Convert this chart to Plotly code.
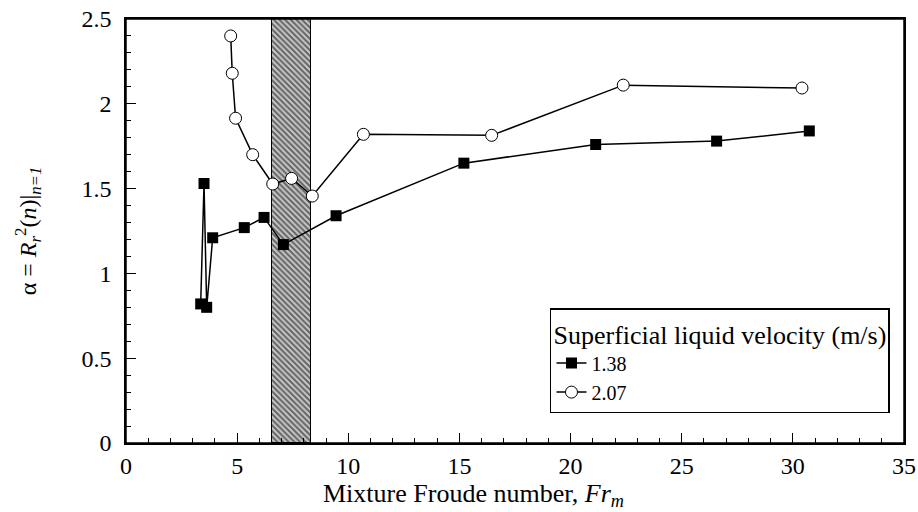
import plotly.graph_objects as go

# superficial liquid velocity 1.38 m/s (filled squares)
fr_138 = [3.36, 3.51, 3.63, 3.90, 5.32, 6.21, 7.08, 9.45, 15.2, 21.13, 26.57, 30.74]
alpha_138 = [0.82, 1.53, 0.80, 1.21, 1.27, 1.33, 1.17, 1.34, 1.65, 1.76, 1.78, 1.84]

# superficial liquid velocity 2.07 m/s (open circles)
fr_207 = [4.71, 4.78, 4.93, 5.70, 6.60, 7.45, 8.38, 10.68, 16.45, 22.37, 30.41]
alpha_207 = [2.40, 2.18, 1.915, 1.70, 1.527, 1.56, 1.456, 1.82, 1.814, 2.11, 2.093]

# transition band (hatched)
band_start = 6.55
band_end = 8.32
band_top = 2.5

FONT = "Liberation Serif"

fig = go.Figure()

fig.add_trace(
    go.Bar(
        x=[(band_start + band_end) / 2],
        y=[band_top],
        width=[band_end - band_start],
        base=0,
        marker=dict(
            color="#a8a8a8",
            line=dict(color="black", width=1),
            pattern=dict(shape="\\", fgcolor="black", bgcolor="#c8c8c8", size=4, solidity=0.5),
        ),
        showlegend=False,
        hoverinfo="skip",
    )
)

fig.add_trace(
    go.Scatter(
        x=fr_138,
        y=alpha_138,
        mode="lines+markers",
        name="1.38",
        line=dict(color="black", width=1.5),
        marker=dict(symbol="square", size=11, color="black"),
    )
)

fig.add_trace(
    go.Scatter(
        x=fr_207,
        y=alpha_207,
        mode="lines+markers",
        name="2.07",
        line=dict(color="black", width=1.5),
        marker=dict(symbol="circle", size=12, color="white", line=dict(color="black", width=1)),
    )
)

axis_common = dict(
    showline=True,
    linecolor="black",
    linewidth=1.5,
    mirror=True,
    showgrid=False,
    zeroline=False,
    automargin=False,
    ticks="inside",
    ticklen=10,
    tickcolor="black",
    ticklabeloverflow="allow",
    tickfont=dict(family=FONT, size=24, color="black"),
)

fig.update_xaxes(
    range=[0, 35],
    dtick=5,
    minor=dict(ticks="inside", dtick=1, ticklen=5, tickcolor="black"),
    **axis_common,
)

fig.update_yaxes(
    range=[0, 2.5],
    dtick=0.5,
    minor=dict(ticks="inside", dtick=0.1, ticklen=5, tickcolor="black"),
    ticklabelstandoff=8,
    title=dict(
        text="α = <i>R</i><sub><i>r</i></sub><sup>2</sup>(<i>n</i>)|<sub><i>n=1</i></sub>",
        font=dict(family=FONT, size=24, color="black"),
        standoff=38,
    ),
    **axis_common,
)

# plot frame
fig.add_shape(
    type="rect",
    xref="paper",
    yref="paper",
    x0=0,
    x1=1,
    y0=0,
    y1=1,
    line=dict(color="black", width=1.5),
    layer="above",
)

fig.add_annotation(
    text="Mixture Froude number, <i>Fr</i><sub><i>m</i></sub>",
    xref="paper",
    yref="paper",
    x=0.447,
    y=-0.08,
    xanchor="center",
    yanchor="top",
    showarrow=False,
    font=dict(family=FONT, size=26, color="black"),
)

fig.update_layout(
    width=918,
    height=512,
    margin=dict(l=126, r=14, t=19, b=69),
    font=dict(family=FONT, color="black"),
    paper_bgcolor="white",
    plot_bgcolor="white",
    bargap=0,
    legend=dict(
        title=dict(text="Superficial liquid velocity (m/s)", font=dict(family=FONT, size=26, color="black")),
        font=dict(family=FONT, size=20, color="black"),
        x=0.982,
        xanchor="right",
        y=0.07,
        yanchor="bottom",
        bgcolor="white",
        bordercolor="black",
        borderwidth=1.5,
        tracegroupgap=0,
        itemwidth=30,
    ),
)

# drop the default page margin so the figure fills the window exactly
fig.write_html(
    "out.html",
    config={"displayModeBar": False},
    post_script="document.body.style.margin = '0';",
)
